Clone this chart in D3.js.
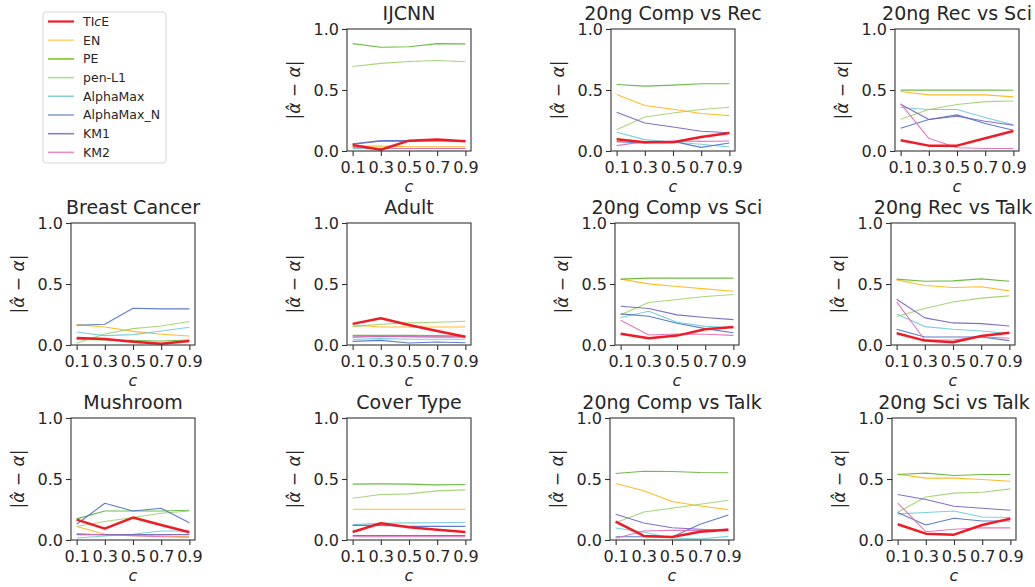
<!DOCTYPE html>
<html>
<head>
<meta charset="utf-8">
<script src="https://cdn.jsdelivr.net/npm/d3@7"></script>
<style>
  body { margin: 0; background: #fff; }
  text { font-family: "DejaVu Sans", sans-serif; fill: #262626; }
</style>
</head>
<body>
<svg id="chart" width="1035" height="587"></svg>
<script>
'use strict';

var cValues = [0.1, 0.3, 0.5, 0.7, 0.9];
var yTicks = [0, 0.5, 1.0];
var methods = ['TIcE', 'EN', 'PE', 'pen-L1', 'AlphaMax', 'AlphaMax_N', 'KM1', 'KM2'];

// rows follow the order of `methods`, columns follow cValues
var ijcnn = [
  [0.05, 0.01, 0.085, 0.095, 0.08],
  [0.04, 0.04, 0.035, 0.035, 0.035],
  [0.88, 0.85, 0.855, 0.88, 0.878],
  [0.693, 0.718, 0.734, 0.742, 0.732],
  [0.02, 0.02, 0.02, 0.02, 0.02],
  [0.06, 0.085, 0.085, 0.085, 0.085],
  [0.055, 0.08, 0.08, 0.085, 0.08],
  [0.03, 0.02, 0.02, 0.02, 0.02]
];
var compVsRec = [
  [0.096, 0.071, 0.071, 0.115, 0.148],
  [0.463, 0.373, 0.342, 0.307, 0.29],
  [0.545, 0.532, 0.54, 0.551, 0.551],
  [0.175, 0.279, 0.312, 0.34, 0.359],
  [0.153, 0.093, 0.074, 0.055, 0.033],
  [0.077, 0.066, 0.079, 0.03, 0.066],
  [0.318, 0.23, 0.197, 0.162, 0.15],
  [0.044, 0.077, 0.082, 0.079, 0.082]
];
var recVsSci = [
  [0.088, 0.044, 0.044, 0.104, 0.164],
  [0.488, 0.46, 0.46, 0.46, 0.444],
  [0.499, 0.499, 0.499, 0.499, 0.498],
  [0.26, 0.34, 0.381, 0.405, 0.41],
  [0.356, 0.34, 0.34, 0.274, 0.214],
  [0.186, 0.258, 0.296, 0.225, 0.17],
  [0.384, 0.258, 0.285, 0.244, 0.211],
  [0.389, 0.104, 0.027, 0.02, 0.02]
];
var breastCancer = [
  [0.058, 0.049, 0.027, 0.011, 0.033],
  [0.167, 0.148, 0.112, 0.088, 0.074],
  [0.047, 0.041, 0.036, 0.033, 0.041],
  [0.014, 0.09, 0.134, 0.156, 0.192],
  [0.107, 0.077, 0.085, 0.115, 0.145],
  [0.162, 0.17, 0.301, 0.296, 0.296],
  null,
  null
];
var adult = [
  [0.173, 0.219, 0.164, 0.115, 0.068],
  [0.164, 0.148, 0.148, 0.148, 0.148],
  [0.079, 0.079, 0.079, 0.077, 0.074],
  [0.151, 0.17, 0.181, 0.186, 0.195],
  [0.047, 0.052, 0.047, 0.047, 0.047],
  [0.03, 0.038, 0.016, 0.025, 0.019],
  [0.065, 0.07, 0.068, 0.066, 0.066],
  [0.066, 0.074, 0.068, 0.068, 0.068]
];
var compVsSci = [
  [0.093, 0.055, 0.077, 0.129, 0.148],
  [0.54, 0.501, 0.479, 0.46, 0.441],
  [0.54, 0.548, 0.548, 0.548, 0.548],
  [0.247, 0.348, 0.373, 0.397, 0.414],
  [0.225, 0.277, 0.186, 0.153, 0.14],
  [0.255, 0.236, 0.178, 0.134, 0.101],
  [0.318, 0.299, 0.247, 0.225, 0.208],
  [0.203, 0.082, 0.09, 0.088, 0.079]
];
var recVsTalk = [
  [0.096, 0.036, 0.022, 0.074, 0.101],
  [0.534, 0.488, 0.471, 0.477, 0.444],
  [0.54, 0.523, 0.526, 0.542, 0.523],
  [0.233, 0.299, 0.353, 0.384, 0.403],
  [0.255, 0.151, 0.129, 0.115, 0.093],
  [0.129, 0.066, 0.066, 0.066, 0.036],
  [0.375, 0.222, 0.181, 0.175, 0.156],
  [0.353, 0.041, 0.041, 0.068, 0.055]
];
var mushroom = [
  [0.167, 0.093, 0.184, 0.123, 0.063],
  [0.11, 0.047, 0.036, 0.033, 0.027],
  [0.173, 0.238, 0.238, 0.238, 0.244],
  [0.11, 0.151, 0.184, 0.219, 0.238],
  [0.016, 0.033, 0.047, 0.074, 0.074],
  [0.129, 0.301, 0.238, 0.26, 0.142],
  [0.044, 0.044, 0.044, 0.044, 0.044],
  [0.052, 0.041, 0.036, 0.027, 0.022]
];
var coverType = [
  [0.066, 0.137, 0.104, 0.085, 0.066],
  [0.252, 0.252, 0.252, 0.252, 0.252],
  [0.458, 0.46, 0.458, 0.452, 0.455],
  [0.342, 0.373, 0.378, 0.403, 0.411],
  [0.126, 0.137, 0.14, 0.142, 0.145],
  [0.12, 0.12, 0.112, 0.112, 0.112],
  [0.036, 0.036, 0.036, 0.036, 0.036],
  [0.027, 0.027, 0.027, 0.027, 0.027]
];
var compVsTalk = [
  [0.151, 0.033, 0.025, 0.068, 0.085],
  [0.463, 0.403, 0.315, 0.279, 0.249],
  [0.545, 0.564, 0.562, 0.553, 0.551],
  [0.142, 0.23, 0.26, 0.293, 0.326],
  [0.099, 0.063, 0.016, 0.008, 0.03],
  [0.027, 0.027, 0.025, 0.129, 0.205],
  [0.211, 0.14, 0.101, 0.088, 0.077],
  [0.014, 0.074, 0.079, 0.079, 0.09]
];
var sciVsTalk = [
  [0.129, 0.052, 0.044, 0.123, 0.175],
  [0.54, 0.507, 0.507, 0.496, 0.482],
  [0.537, 0.548, 0.529, 0.537, 0.537],
  [0.227, 0.353, 0.384, 0.392, 0.419],
  [0.214, 0.225, 0.238, 0.189, 0.184],
  [0.225, 0.123, 0.178, 0.156, 0.156],
  [0.373, 0.332, 0.277, 0.26, 0.244],
  [0.304, 0.068, 0.088, 0.101, 0.099]
];

var titles = ['IJCNN', '20ng Comp vs Rec', '20ng Rec vs Sci',
  'Breast Cancer', 'Adult', '20ng Comp vs Sci', '20ng Rec vs Talk',
  'Mushroom', 'Cover Type', '20ng Comp vs Talk', '20ng Sci vs Talk'];
var tables = [ijcnn, compVsRec, recVsSci,
  breastCancer, adult, compVsSci, recVsTalk,
  mushroom, coverType, compVsTalk, sciVsTalk];

// styling
var colors = ['#ee1c25', '#ffb612', '#5cb531', '#9fd06a', '#6ccbd6', '#4d6fc4', '#7260bf', '#e06bb6'];
var legendColors = ['#ee1c25', '#ffd67a', '#7ec628', '#b0dc92', '#86cfd8', '#8ba3d8', '#8b7fcc', '#e58bc6'];

// axes boxes, skipping the legend slot at row 0 col 0
var panelLeft = [347, 611, 895, 71, 347, 615, 891, 71, 347, 610, 892];
var panelTop = [29, 29, 29, 223, 223, 223, 223, 418, 418, 418, 418];
var panelW = 124;
var panelH = 122;

function translate(x, y) {
  return 'translate(' + x + ', ' + y + ')';
}

var svg = d3.select('#chart');

function drawPanel(i) {
  var g = svg.append('g').attr('transform', translate(panelLeft[i], panelTop[i]));
  var x = d3.scaleLinear().domain([0.06, 0.94]).range([0, panelW]);
  var y = d3.scaleLinear().domain([0, 1]).range([panelH, 0]);

  var line = d3.line()
    .x(function (d, k) { return x(cValues[k]); })
    .y(function (d) { return y(d); });

  // TIcE goes last so it sits on top
  var order = [1, 2, 3, 4, 5, 6, 7, 0];
  order.forEach(function (m) {
    var vals = tables[i][m];
    if (!vals) {
      return;
    }
    g.append('path')
      .attr('d', line(vals))
      .attr('fill', 'none')
      .attr('stroke', colors[m])
      .attr('stroke-width', m === 0 ? 2.5 : 1.1)
      .attr('stroke-linejoin', 'round')
      .attr('opacity', m === 0 ? 1 : 0.9);
  });

  var xAxis = g.append('g')
    .attr('transform', translate(0, panelH))
    .call(d3.axisBottom(x).tickValues(cValues).tickFormat(d3.format('.1f'))
      .tickSize(5).tickPadding(6).tickSizeOuter(0));
  var yAxis = g.append('g')
    .call(d3.axisLeft(y).tickValues(yTicks).tickFormat(d3.format('.1f'))
      .tickSize(5).tickPadding(3).tickSizeOuter(0));

  [xAxis, yAxis].forEach(function (ax) {
    ax.select('.domain').remove();
    ax.selectAll('line').attr('stroke', '#333').attr('stroke-width', 1.1);
    ax.selectAll('text')
      .style('font-size', '16px')
      .style('font-family', '"DejaVu Sans", sans-serif')
      .attr('fill', '#262626');
  });

  g.append('rect')
    .attr('width', panelW)
    .attr('height', panelH)
    .attr('fill', 'none')
    .attr('stroke', '#333')
    .attr('stroke-width', 1.1);

  g.append('text')
    .attr('x', panelW / 2)
    .attr('y', -9)
    .attr('text-anchor', 'middle')
    .style('font-size', '19px')
    .text(titles[i]);

  g.append('text')
    .attr('x', panelW / 2)
    .attr('y', panelH + 41)
    .attr('text-anchor', 'middle')
    .style('font-size', '16px')
    .style('font-style', 'italic')
    .text('c');

  var ylab = g.append('text')
    .attr('transform', translate(-47, panelH / 2) + ' rotate(-90)')
    .attr('text-anchor', 'middle')
    .style('font-size', '17px');
  ylab.append('tspan').text('|');
  ylab.append('tspan').style('font-style', 'italic').text('\u03b1\u0302');
  ylab.append('tspan').text(' \u2212 ');
  ylab.append('tspan').style('font-style', 'italic').text('\u03b1');
  ylab.append('tspan').text('|');
}

for (var i = 0; i < titles.length; i++) {
  drawPanel(i);
}

// legend box in the empty top-left slot
var legend = svg.append('g').attr('transform', translate(43, 12));
legend.append('rect')
  .attr('width', 123)
  .attr('height', 151)
  .attr('rx', 3)
  .attr('fill', '#fff')
  .attr('stroke', '#d6d6d6');

var rows = legend.selectAll('g.item')
  .data(methods)
  .enter()
  .append('g')
  .attr('class', 'item')
  .attr('transform', function (d, k) { return translate(0, 9.5 + k * 18.7); });

rows.append('line')
  .attr('x1', 5)
  .attr('x2', 31)
  .attr('stroke', function (d, k) { return legendColors[k]; })
  .attr('stroke-width', function (d, k) { return k === 0 ? 2.2 : 1.6; });

rows.append('text')
  .attr('x', 40)
  .attr('dy', '0.35em')
  .style('font-size', '12.5px')
  .each(function (d) {
    var t = d3.select(this);
    if (d === 'TIcE') {
      t.append('tspan').text('TI');
      t.append('tspan').style('font-style', 'italic').text('c');
      t.append('tspan').text('E');
    } else {
      t.text(d);
    }
  });
</script>
</body>
</html>
